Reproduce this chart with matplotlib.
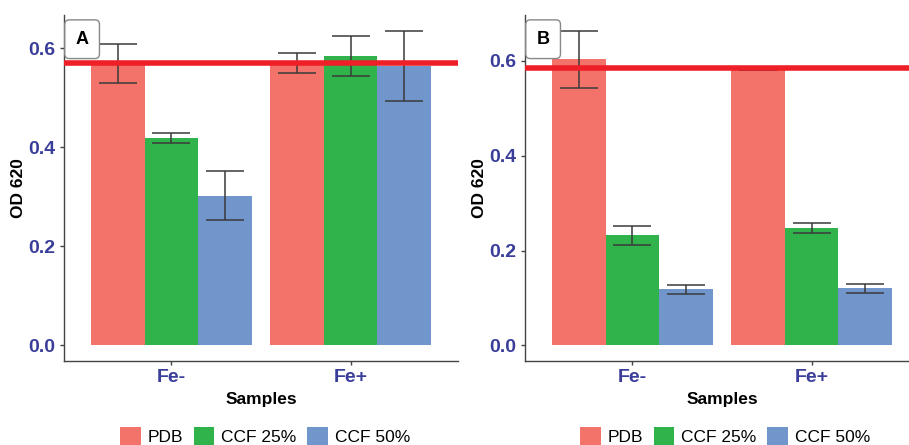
import matplotlib
matplotlib.use('Agg')
import matplotlib.pyplot as plt
import numpy as np

plt.rcParams['font.family'] = ['Liberation Sans', 'DejaVu Sans']

samples = ["Fe-", "Fe+"]
treatments = ["PDB", "CCF 25%", "CCF 50%"]
colors = ["#F3736A", "#2FB34A", "#7196CB"]

# panel A: mean and half error bar, rows = treatments, cols = samples
a_mean = [[0.569, 0.570], [0.418, 0.584], [0.302, 0.564]]
a_err = [[0.040, 0.020], [0.010, 0.040], [0.050, 0.070]]
a_ref = 0.570

# panel B
b_mean = [[0.604, 0.582], [0.232, 0.248], [0.118, 0.120]]
b_err = [[0.060, 0.0], [0.020, 0.010], [0.010, 0.010]]
b_ref = 0.585

tick_col = "#3A3E9A"

fig = plt.figure(figsize=(9.09, 4.45), dpi=100)
ax_a = fig.add_axes([64 / 909, 84 / 445, 394 / 909, 346 / 445])
ax_b = fig.add_axes([525 / 909, 84 / 445, 394 / 909, 346 / 445])


def draw(ax, means, errs, ref, letter, ylim, leg_x):
    x = np.arange(1, len(samples) + 1)
    w = 0.3
    for i, t in enumerate(treatments):
        xs = x + (i - 1) * w
        ax.bar(xs, means[i], width=w, color=colors[i], label=t, zorder=2)
        ax.errorbar(xs, means[i], yerr=errs[i], fmt='none', ecolor='#3a3a3a',
                    elinewidth=1.1, capsize=14, capthick=1.1, zorder=3)
    ax.axhline(ref, color='#EE1F26', lw=4, zorder=4)
    ax.set_xlim(0.4, 2.6)
    ax.set_ylim(*ylim)
    ax.set_yticks([0.0, 0.2, 0.4, 0.6])
    ax.set_yticklabels(["0.0", "0.2", "0.4", "0.6"])
    ax.set_xticks(x)
    ax.set_xticklabels(samples)
    for s in ['top', 'right']:
        ax.spines[s].set_visible(False)
    for s in ['left', 'bottom']:
        ax.spines[s].set_color('#444444')
        ax.spines[s].set_linewidth(1.0)
    ax.tick_params(axis='both', length=3, width=1, color='#444444', pad=3,
                   labelsize=14, labelcolor=tick_col)
    for lab in ax.get_xticklabels() + ax.get_yticklabels():
        lab.set_fontweight('bold')
    ax.set_xlabel("Samples", fontsize=12.5, fontweight='bold', labelpad=4)
    ax.set_ylabel("OD 620", fontsize=12.5, fontweight='bold', labelpad=2)
    ax.text(0.046, 0.93, letter, transform=ax.transAxes, fontsize=13,
            fontweight='bold', ha='center', va='center', zorder=6,
            bbox=dict(boxstyle='round,pad=0.6,rounding_size=0.25', fc='white',
                      ec='#888888', lw=1))
    ax.legend(loc='upper center', bbox_to_anchor=(leg_x, 18 / 445),
              bbox_transform=fig.transFigure, ncol=3, frameon=False,
              fontsize=12.5, handlelength=1.2, handleheight=1.2,
              handletextpad=0.4, columnspacing=0.6, borderpad=0,
              borderaxespad=0)


draw(ax_a, a_mean, a_err, a_ref, "A", (-0.032, 0.667), 265 / 909)
draw(ax_b, b_mean, b_err, b_ref, "B", (-0.033, 0.697), 725 / 909)

fig.savefig("out.png", dpi=100)
